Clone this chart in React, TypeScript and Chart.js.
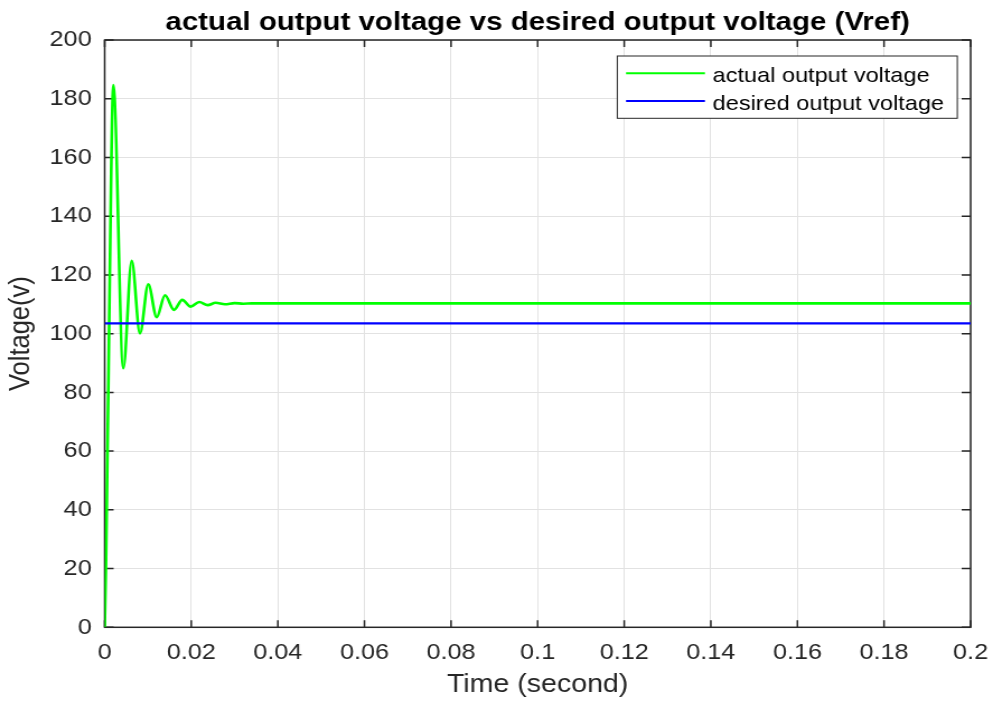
import React, { useEffect, useRef } from 'react';
import { Chart, registerables } from 'chart.js';

Chart.register(...registerables);

// ---- data ----
const chartTitle = 'actual output voltage vs desired output voltage (Vref)';
const xAxisTitle = 'Time (second)';
const yAxisTitle = 'Voltage(v)';
const seriesLabels = ['actual output voltage', 'desired output voltage'];
const seriesColors = ['#00ff00', '#0000ff'];

const actualTime = [
  0, 0.0003, 0.0006, 0.0009, 0.0012, 0.0015, 0.0017, 0.00199,
  0.0043, 0.00624, 0.00815, 0.01007, 0.01201, 0.01393, 0.016,
  0.01792, 0.01986, 0.02185, 0.02379, 0.02563, 0.02778, 0.03,
  0.032, 0.034, 0.2,
];
const actualVoltage = [
  0, 22, 55, 88, 122, 155, 172, 184.7,
  88.2, 124.8, 100.1, 116.8, 105.6, 113.1, 108.1,
  111.5, 109.2, 110.8, 109.7, 110.5, 110.0, 110.4,
  110.2, 110.3, 110.3,
];
const desiredTime = [0, 0.2];
const desiredVoltage = [103.5, 103.5];

const xTickValues = [0, 0.02, 0.04, 0.06, 0.08, 0.1, 0.12, 0.14, 0.16, 0.18, 0.2];
const xTickLabels = ['0', '0.02', '0.04', '0.06', '0.08', '0.1', '0.12', '0.14', '0.16', '0.18', '0.2'];
const yTickValues = [0, 20, 40, 60, 80, 100, 120, 140, 160, 180, 200];
const yTickLabels = ['0', '20', '40', '60', '80', '100', '120', '140', '160', '180', '200'];

// ---- layout (internal canvas is narrower, stretched by CSS to 993px) ----
const CSS_W = 993;
const CSS_H = 702;
const INT_W = 887;
const FONT = '"Liberation Sans", Arial, Helvetica, sans-serif';
const AXIS_COLOR = '#262626';

const matlabPlugin = {
  id: 'matlabFrame',
  beforeDatasetsDraw(chart: any) {
    const { ctx, chartArea: a, scales } = chart;
    ctx.save();
    ctx.strokeStyle = AXIS_COLOR;
    ctx.lineWidth = 1.5;
    ctx.beginPath();
    scales.x.ticks.forEach((t: any) => {
      const px = scales.x.getPixelForValue(t.value);
      ctx.moveTo(px, a.bottom);
      ctx.lineTo(px, a.bottom - 7);
      ctx.moveTo(px, a.top);
      ctx.lineTo(px, a.top + 7);
    });
    scales.y.ticks.forEach((t: any) => {
      const py = scales.y.getPixelForValue(t.value);
      ctx.moveTo(a.left, py);
      ctx.lineTo(a.left + 8, py);
      ctx.moveTo(a.right, py);
      ctx.lineTo(a.right - 8, py);
    });
    ctx.stroke();
    ctx.strokeRect(a.left, a.top, a.right - a.left, a.bottom - a.top);
    ctx.restore();
  },
  afterDraw(chart: any) {
    const { ctx, chartArea: a } = chart;
    const cx = (a.left + a.right) / 2;
    const cy = (a.top + a.bottom) / 2;
    ctx.save();
    // title
    ctx.fillStyle = '#000';
    ctx.font = `bold 26.3px ${FONT}`;
    ctx.textAlign = 'center';
    ctx.textBaseline = 'alphabetic';
    ctx.fillText(chartTitle, cx, 30);
    // x title
    ctx.fillStyle = AXIS_COLOR;
    ctx.font = `25.5px ${FONT}`;
    ctx.fillText(xAxisTitle, cx, 692);
    // y title
    ctx.save();
    ctx.translate(26.2, cy);
    ctx.rotate(-Math.PI / 2);
    ctx.fillText(yAxisTitle, 0, 0);
    ctx.restore();
    // legend
    const lx = 551.4, ly = 56, lw = 303.7, lh = 62.3;
    ctx.fillStyle = '#fff';
    ctx.fillRect(lx, ly, lw, lh);
    ctx.strokeStyle = AXIS_COLOR;
    ctx.lineWidth = 1;
    ctx.strokeRect(lx, ly, lw, lh);
    const rowY = [73.3, 101];
    ctx.font = `21px ${FONT}`;
    ctx.textAlign = 'left';
    seriesLabels.forEach((lab, i) => {
      ctx.strokeStyle = seriesColors[i];
      ctx.lineWidth = 2;
      ctx.beginPath();
      ctx.moveTo(559.2, rowY[i]);
      ctx.lineTo(629.7, rowY[i]);
      ctx.stroke();
      ctx.fillStyle = '#000';
      ctx.fillText(lab, 636.6, rowY[i] + 8.7);
    });
    ctx.restore();
  },
};

export default function App() {
  const canvasRef = useRef<HTMLCanvasElement | null>(null);

  useEffect(() => {
    const canvas = canvasRef.current;
    if (!canvas) return;
    const chart = new Chart(canvas, {
      type: 'line',
      data: {
        datasets: [
          {
            label: seriesLabels[0],
            data: actualTime.map((t, i) => ({ x: t, y: actualVoltage[i] })),
            borderColor: seriesColors[0],
            backgroundColor: seriesColors[0],
            borderWidth: 2.6,
            pointRadius: 0,
            cubicInterpolationMode: 'monotone',
            order: 1,
          },
          {
            label: seriesLabels[1],
            data: desiredTime.map((t, i) => ({ x: t, y: desiredVoltage[i] })),
            borderColor: seriesColors[1],
            backgroundColor: seriesColors[1],
            borderWidth: 2.2,
            pointRadius: 0,
            order: 0,
          },
        ],
      },
      options: {
        animation: false,
        responsive: false,
        devicePixelRatio: 1,
        events: [],
        layout: { padding: { left: 0, right: 20, top: 40, bottom: 0 } },
        plugins: {
          legend: { display: false },
          title: { display: false },
          tooltip: { enabled: false },
        },
        scales: {
          x: {
            type: 'linear',
            min: 0,
            max: 0.2,
            afterFit: (s: any) => {
              s.height = 74.7;
              s.paddingLeft = 0;
              s.paddingRight = 0;
            },
            afterBuildTicks: (s: any) => { s.ticks = xTickValues.map((v) => ({ value: v })); },
            grid: { color: '#e2e2e2', lineWidth: 1, drawTicks: false },
            border: { display: false },
            ticks: {
              autoSkip: false,
              maxRotation: 0,
              padding: 12.2,
              color: AXIS_COLOR,
              font: { family: FONT, size: 22.5 },
              callback: (_v: any, i: number) => xTickLabels[i],
            },
          },
          y: {
            type: 'linear',
            min: 0,
            max: 200,
            afterFit: (s: any) => {
              s.width = 93.5;
              s.paddingTop = 0;
              s.paddingBottom = 0;
            },
            afterBuildTicks: (s: any) => { s.ticks = yTickValues.map((v) => ({ value: v })); },
            grid: { color: '#e2e2e2', lineWidth: 1, drawTicks: false },
            border: { display: false },
            ticks: {
              autoSkip: false,
              padding: 11.6,
              color: AXIS_COLOR,
              font: { family: FONT, size: 22.5 },
              callback: (_v: any, i: number) => yTickLabels[i],
            },
          },
        },
      },
      plugins: [matlabPlugin],
    } as any);
    return () => chart.destroy();
  }, []);

  return (
    <div style={{ position: 'absolute', left: 0, top: 0, width: CSS_W, height: CSS_H, background: '#fff' }}>
      <canvas
        ref={canvasRef}
        width={INT_W}
        height={CSS_H}
        style={{ width: `${CSS_W}px`, height: `${CSS_H}px`, display: 'block' }}
      />
    </div>
  );
}
